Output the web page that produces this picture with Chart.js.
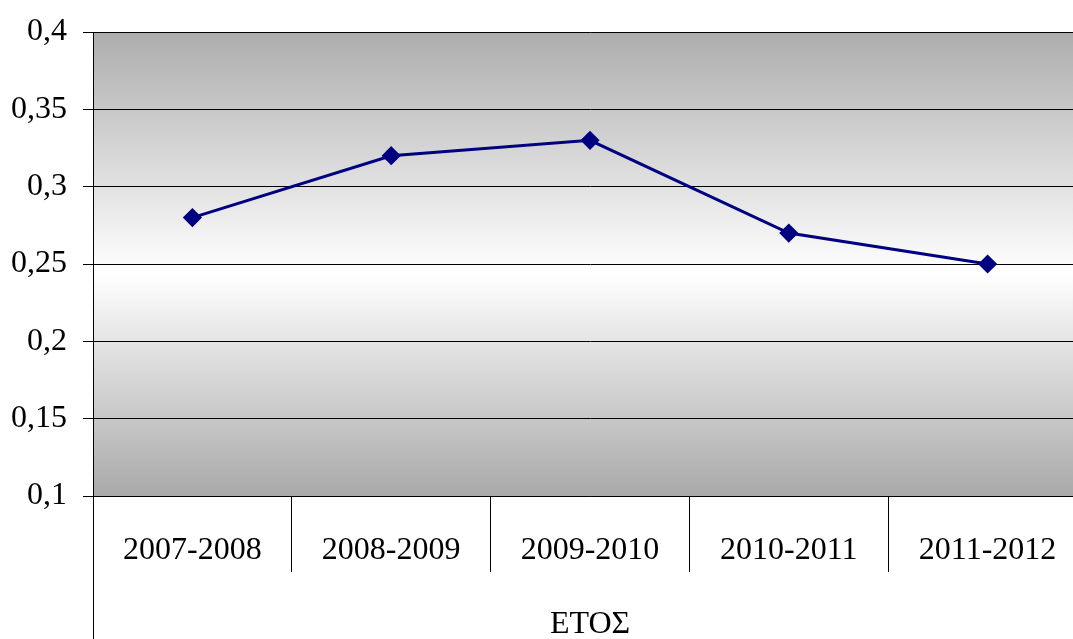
<!DOCTYPE html>
<html>
<head>
<meta charset="utf-8">
<script src="https://cdn.jsdelivr.net/npm/chart.js@4/dist/chart.umd.min.js"></script>
<style>
  html, body { margin: 0; padding: 0; background: #ffffff; overflow: hidden; }
  #wrap { width: 1073px; height: 639px; overflow: hidden; }
  canvas { display: block; }
</style>
</head>
<body>
<div id="wrap"><canvas id="c" width="1090" height="639"></canvas></div>
<script>
// School years and the measured ratio for each
const years = ['2007-2008', '2008-2009', '2009-2010', '2010-2011', '2011-2012'];
const ratio = [0.28, 0.32, 0.33, 0.27, 0.25];
const yTicks = [0.1, 0.15, 0.2, 0.25, 0.3, 0.35, 0.4];
const xTitle = 'ΕΤΟΣ';

const serif = '"Liberation Serif", "Times New Roman", "DejaVu Serif", serif';

// Grey-white-grey vertical wash behind the plot
const plotBackground = {
  id: 'plotBackground',
  beforeDraw(chart) {
    const { ctx, chartArea: a } = chart;
    const g = ctx.createLinearGradient(0, a.top, 0, a.bottom);
    g.addColorStop(0, '#adadad');
    g.addColorStop(0.52, '#ffffff');
    g.addColorStop(1, '#a9a9a9');
    ctx.save();
    ctx.fillStyle = g;
    ctx.fillRect(a.left, a.top, a.right - a.left, a.bottom - a.top);
    ctx.restore();
  }
};

// Value axis line continued down through the category band
const leftAxisLine = {
  id: 'leftAxisLine',
  afterDraw(chart) {
    const { ctx, chartArea: a } = chart;
    const x = Math.round(a.left) + 0.5;
    ctx.save();
    ctx.strokeStyle = '#000000';
    ctx.lineWidth = 1;
    ctx.beginPath();
    ctx.moveTo(x, a.top);
    ctx.lineTo(x, chart.height);
    ctx.stroke();
    ctx.restore();
  }
};

new Chart(document.getElementById('c'), {
  type: 'line',
  data: {
    labels: years,
    datasets: [{
      data: ratio,
      borderColor: '#000080',
      backgroundColor: '#000080',
      borderWidth: 3,
      pointStyle: 'rectRot',
      pointRadius: 7.5,
      pointHoverRadius: 7.5,
      pointBackgroundColor: '#000080',
      pointBorderColor: '#000080',
      tension: 0,
      fill: false
    }]
  },
  options: {
    responsive: false,
    devicePixelRatio: 1,
    animation: false,
    events: [],
    layout: { autoPadding: false, padding: { top: 32, right: 3, bottom: 0, left: 0 } },
    plugins: { legend: { display: false }, tooltip: { enabled: false } },
    scales: {
      x: {
        type: 'category',
        offset: true,
        grid: {
          offset: true,
          drawOnChartArea: false,
          drawTicks: true,
          tickLength: 76,
          color: '#000000',
          lineWidth: 1
        },
        border: { display: true, color: '#000000', width: 1 },
        ticks: {
          color: '#000000',
          font: { family: serif, size: 32 },
          padding: -41,
          maxRotation: 0,
          autoSkip: false
        },
        title: {
          display: true,
          text: xTitle,
          color: '#000000',
          font: { family: serif, size: 32 },
          padding: { top: 0, bottom: -5 }
        },
        afterFit(scale) {
          scale.height = 143;
          scale.paddingLeft = 0;
          scale.paddingRight = 0;
        }
      },
      y: {
        type: 'linear',
        min: 0.1,
        max: 0.4,
        afterBuildTicks(scale) { scale.ticks = yTicks.map(v => ({ value: v })); },
        grid: {
          color: '#000000',
          lineWidth: 1,
          drawTicks: true,
          tickLength: 10
        },
        border: { display: true, color: '#000000', width: 1 },
        ticks: {
          color: '#000000',
          font: { family: serif, size: 32 },
          padding: 16,
          callback: v => String(Math.round(v * 100) / 100).replace('.', ',')
        },
        afterFit(scale) {
          scale.width = 93;
          scale.paddingTop = 0;
          scale.paddingBottom = 0;
        }
      }
    }
  },
  plugins: [plotBackground, leftAxisLine]
});
</script>
</body>
</html>
